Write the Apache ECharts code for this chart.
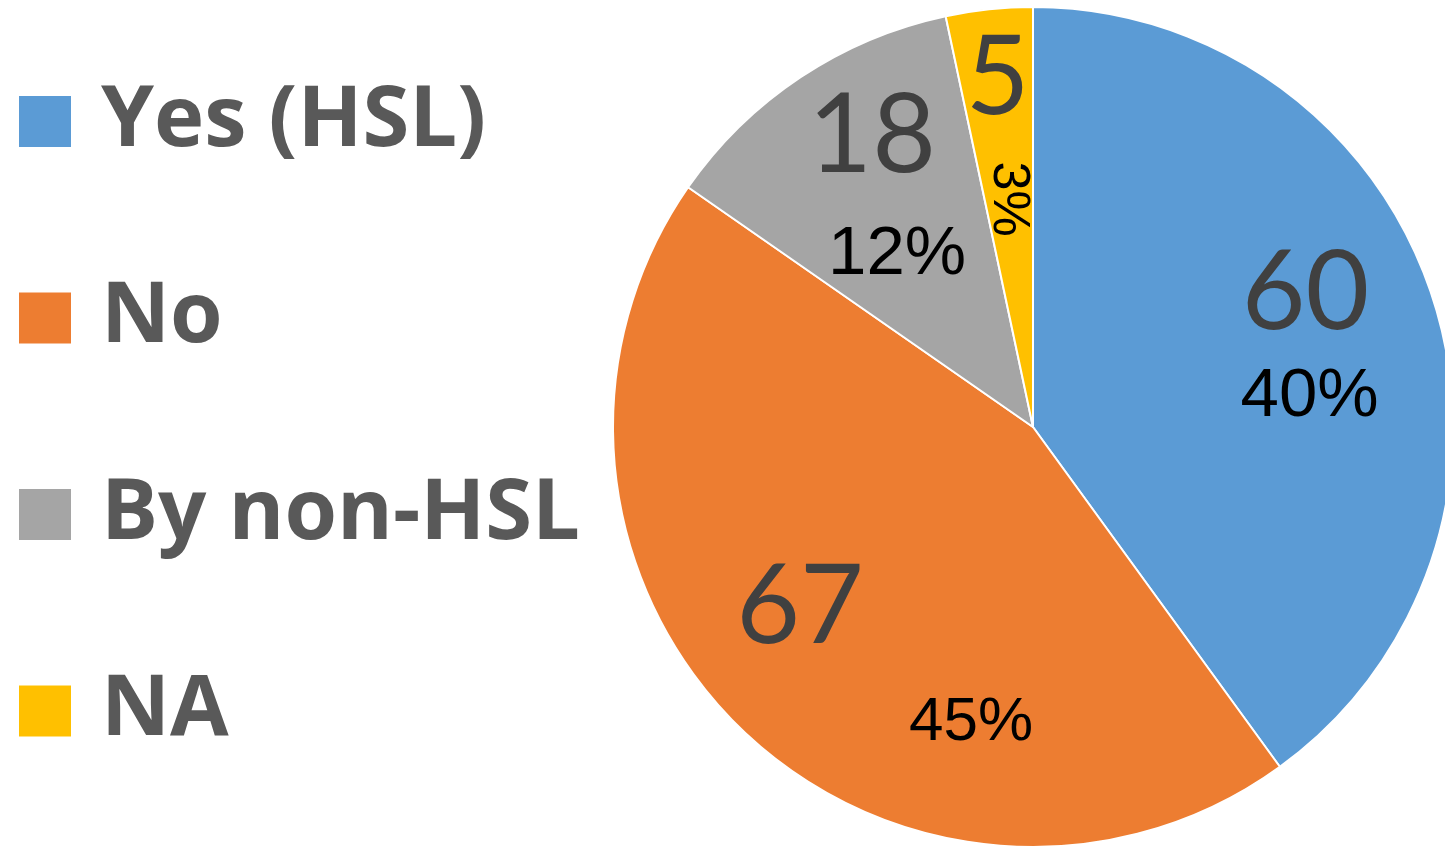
<!DOCTYPE html>
<html>
<head>
<meta charset="utf-8">
<script src="https://cdn.jsdelivr.net/npm/echarts@6/dist/echarts.min.js"></script>
<style>
  html, body { margin: 0; padding: 0; background: #ffffff; }
  #chart { width: 1445px; height: 849px; }
</style>
</head>
<body>
<div id="chart"></div>
<script>
// data
const categories = ["Yes (HSL)", "No", "By non-HSL", "NA"];
const counts = [60, 67, 18, 5];

// look
const sliceColors = ["#5B9BD5", "#ED7D31", "#A5A5A5", "#FFC000"];

// label nudges away from the default inside spot (px)
// note: for the rotated 3% label dx/dy act in the rotated frame
const countShift = [[70, -68], [-84, 28], [-43, -113], [-13, -137]];
const pctShift = [[74, 36], [87, 144], [-18, 5], [-16, 2]];
const pctFontSize = [69, 62, 69, 52];
const pctRotate = [0, 0, 0, -90];

const PIE_CENTER = [1033, 427];
const PIE_RADIUS = 420;

const chart = echarts.init(document.getElementById("chart"), null, { renderer: "canvas" });

function countData()
{
    return categories.map(function (name, i)
    {
        return { name: name, value: counts[i], itemStyle: { color: sliceColors[i] } };
    });
}

function pctData()
{
    return categories.map(function (name, i)
    {
        return {
            name: name,
            value: counts[i],
            label: { fontSize: pctFontSize[i], rotate: pctRotate[i] }
        };
    });
}

const option = {
    backgroundColor: "#ffffff",
    animation: false,
    legend: {
        data: categories,
        orient: "vertical",
        left: 17,
        top: 79,
        height: 760,
        padding: 0,
        icon: "rect",
        itemWidth: 54,
        itemHeight: 53,
        itemGap: 111.5,
        selectedMode: false,
        textStyle: {
            fontFamily: "Open Sans",
            fontWeight: "bold",
            fontSize: 85,
            color: "#595959",
            padding: [0, 0, 0, 24]
        }
    },
    series: [
        {
            name: "count",
            type: "pie",
            center: PIE_CENTER,
            radius: PIE_RADIUS,
            startAngle: 90,
            clockwise: true,
            silent: true,
            itemStyle: { borderColor: "#ffffff", borderWidth: 2 },
            label: {
                show: true,
                position: "inside",
                formatter: "{c}",
                fontFamily: "Lato",
                fontSize: 110,
                color: "#404040"
            },
            labelLine: { show: false },
            labelLayout: function (p)
            {
                const s = countShift[p.dataIndex];
                return { dx: s[0], dy: s[1] };
            },
            data: countData()
        },
        {
            name: "percent",
            type: "pie",
            center: PIE_CENTER,
            radius: PIE_RADIUS,
            startAngle: 90,
            clockwise: true,
            silent: true,
            percentPrecision: 0,
            itemStyle: { color: "rgba(0,0,0,0)", borderWidth: 0 },
            label: {
                show: true,
                position: "inside",
                formatter: "{d}%",
                fontFamily: "Liberation Sans",
                fontSize: 66,
                color: "#000000"
            },
            labelLine: { show: false },
            labelLayout: function (p)
            {
                const s = pctShift[p.dataIndex];
                return { dx: s[0], dy: s[1] };
            },
            data: pctData()
        }
    ]
};

chart.setOption(option);
</script>
</body>
</html>
